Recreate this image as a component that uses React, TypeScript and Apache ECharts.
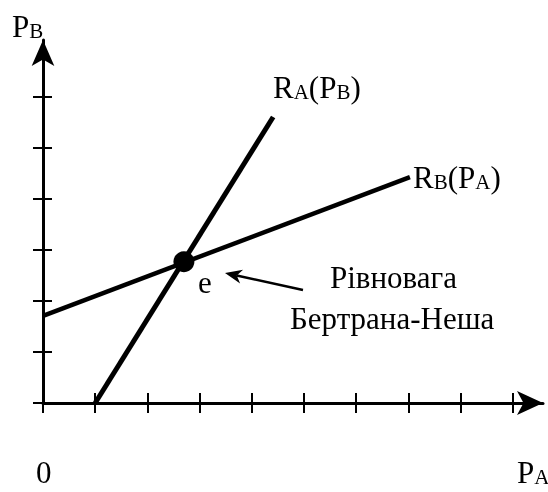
import React, { useEffect, useRef } from "react";
import * as echarts from "echarts";

// Tick positions (axis units) on each axis
const xTicks = [0, 1, 2, 3, 4, 5, 6, 7, 8, 9];
const yTicks = [0, 1, 2, 3, 4, 5, 6];
const xMax = 9.58;
const yMax = 7.12;

// Reaction functions
const reactionA = [
  [1.0, 0.0],
  [4.41, 5.61],
];
const reactionB = [
  [0.0, 1.71],
  [7.03, 4.43],
];
// Bertrand–Nash equilibrium
const equilibrium = [[2.7, 2.77]];

const FONT = "'Liberation Serif', 'Times New Roman', serif";

export default function App() {
  const ref = useRef<HTMLDivElement>(null);

  useEffect(() => {
    if (!ref.current) return;
    const chart = echarts.init(ref.current, null, { renderer: "svg" });

    const main = { fontSize: 31, fontFamily: FONT, fill: "#000", lineHeight: 31, verticalAlign: "bottom" as const };
    const sub = { fontSize: 21, fontFamily: FONT, fill: "#000", lineHeight: 21, verticalAlign: "bottom" as const };
    const rich = { m: main, s: sub };

    const label = (text: string, x: number, baseline: number) => ({
      type: "text",
      x,
      y: baseline + 6.7,
      style: {
        text,
        rich,
        fontFamily: FONT,
        fontSize: 31,
        fill: "#000",
        align: "left",
        verticalAlign: "bottom",
      },
    });

    // annotation arrow
    const tail = [303, 290];
    const tip = [225, 273];
    const dx = tip[0] - tail[0];
    const dy = tip[1] - tail[1];
    const len = Math.hypot(dx, dy);
    const ux = dx / len;
    const uy = dy / len;
    const nx = -uy;
    const ny = ux;
    const headLen = 17;
    const headW = 7;
    const back = [tip[0] - headLen * ux, tip[1] - headLen * uy];
    const notch = [tip[0] - 12 * ux, tip[1] - 12 * uy];

    const axisLineStyle = { color: "#000", width: 3 };
    const tickStyle = { color: "#000", width: 2 };

    chart.setOption({
      animation: false,
      grid: { left: 43, right: 5, top: 40, bottom: 89 },
      xAxis: [
        {
          type: "value",
          min: 0,
          max: xMax,
          position: "bottom",
          axisLine: { show: true, onZero: false, lineStyle: axisLineStyle, symbol: ["none", "arrow"], symbolSize: [18, 26] },
          axisTick: { show: true, inside: false, length: 10, lineStyle: tickStyle, customValues: xTicks },
          axisLabel: { show: false },
          splitLine: { show: false },
        },
        {
          type: "value",
          min: 0,
          max: xMax,
          position: "bottom",
          axisLine: { show: false, onZero: false },
          axisTick: { show: true, inside: true, length: 10, lineStyle: tickStyle, customValues: xTicks },
          axisLabel: { show: false },
          splitLine: { show: false },
        },
      ],
      yAxis: [
        {
          type: "value",
          min: 0,
          max: yMax,
          position: "left",
          axisLine: { show: true, onZero: false, lineStyle: axisLineStyle, symbol: ["none", "arrow"], symbolSize: [17, 26] },
          axisTick: { show: true, inside: false, length: 10, lineStyle: tickStyle, customValues: yTicks },
          axisLabel: { show: false },
          splitLine: { show: false },
        },
        {
          type: "value",
          min: 0,
          max: yMax,
          position: "left",
          axisLine: { show: false, onZero: false },
          axisTick: { show: true, inside: true, length: 9, lineStyle: tickStyle, customValues: yTicks },
          axisLabel: { show: false },
          splitLine: { show: false },
        },
      ],
      series: [
        {
          type: "line",
          data: reactionA,
          showSymbol: false,
          lineStyle: { color: "#000", width: 5, cap: "butt" },
          silent: true,
        },
        {
          type: "line",
          data: reactionB,
          showSymbol: false,
          lineStyle: { color: "#000", width: 4.5, cap: "butt" },
          silent: true,
        },
        {
          type: "scatter",
          data: equilibrium,
          symbol: "circle",
          symbolSize: 21,
          itemStyle: { color: "#000", opacity: 1 },
          z: 5,
          silent: true,
        },
      ],
      graphic: [
        label("{m|P}{s|B}", 12, 35),
        label("{m|R}{s|A}{m|(P}{s|B}{m|)}", 273, 96),
        label("{m|R}{s|B}{m|(P}{s|A}{m|)}", 413, 186),
        label("{m|e}", 198, 291),
        label("{m|Рівновага}", 330, 286),
        label("{m|Бертрана-Неша}", 290, 327),
        label("{m|0}", 36, 481),
        label("{m|P}{s|A}", 517, 481),
        {
          type: "line",
          shape: { x1: tail[0], y1: tail[1], x2: notch[0], y2: notch[1] },
          style: { stroke: "#000", lineWidth: 2.5 },
        },
        {
          type: "polygon",
          shape: {
            points: [
              tip,
              [back[0] + headW * nx, back[1] + headW * ny],
              notch,
              [back[0] - headW * nx, back[1] - headW * ny],
            ],
          },
          style: { fill: "#000" },
        },
      ],
    });

    return () => chart.dispose();
  }, []);

  return <div ref={ref} style={{ position: "fixed", left: 0, top: 0, width: 548, height: 492 }} />;
}
